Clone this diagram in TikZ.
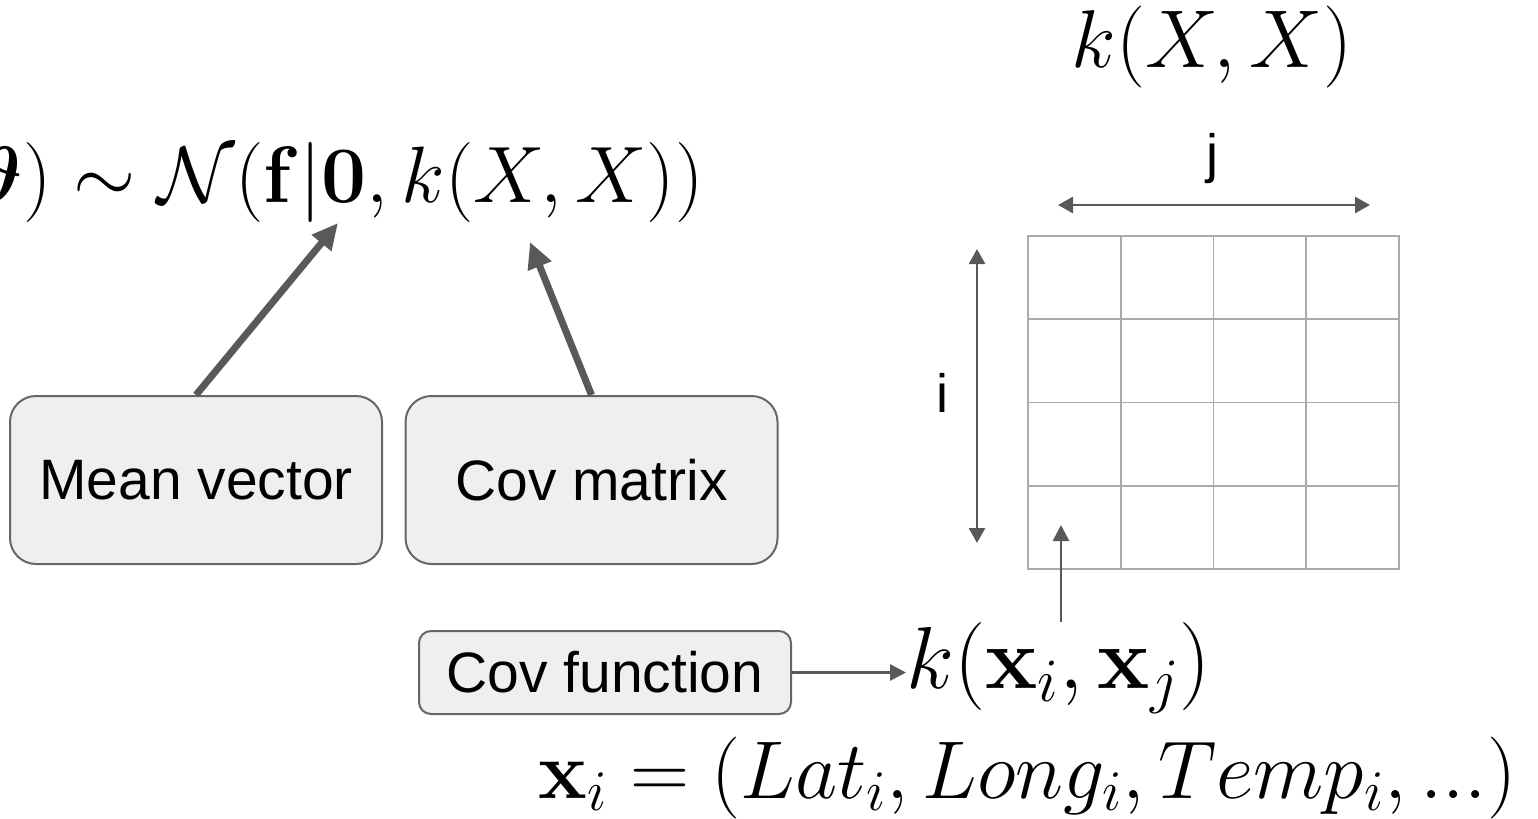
\RequirePackage{fix-cm}
\documentclass[tikz,border=0pt]{standalone}
\usepackage{amsmath, amssymb}
\usepackage[no-math]{fontspec}
\newfontfamily\arialfont{Liberation Sans}
\usepackage{tikz}
\usetikzlibrary{arrows.meta, positioning}
\definecolor{arrowgray}{RGB}{89, 89, 89}
\definecolor{boxfill}{RGB}{239, 239, 239}
\definecolor{boxline}{RGB}{102, 102, 102}
\definecolor{gridgray}{RGB}{170, 170, 170}

\begin{document}
\begin{tikzpicture}[
    x=0.5pt, y=-0.5pt,
    mathbig/.style={inner sep=0pt, font=\fontsize{41}{49}\selectfont},
    mathhuge/.style={inner sep=0pt, font=\fontsize{44}{53}\selectfont},
    labelbox/.style={draw=boxline, line width=1pt, fill=boxfill, rounded corners=13pt, minimum width=186pt, minimum height=84pt, font=\arialfont\fontsize{28.5}{34}\selectfont},
    funcbox/.style={labelbox, rounded corners=6pt, minimum height=41.5pt},
    cell/.style={draw=gridgray, line width=0.8pt, minimum width=46.4pt, minimum height=41.6pt, inner sep=0pt},
    bigarrow/.style={draw=arrowgray, line width=3.5pt, -{Triangle[length=13pt, width=12pt]}},
    thinarrow/.style={draw=arrowgray, line width=1.4pt, -{Triangle[length=8pt, width=8pt]}},
    dblarrow/.style={draw=arrowgray, line width=1.4pt, {Triangle[length=7.5pt, width=8pt]}-{Triangle[length=7.5pt, width=8pt]}},
    axislabel/.style={font=\arialfont\fontsize{27}{32}\selectfont, inner sep=0pt, anchor=base}
]
    \useasboundingbox (0, 0) rectangle (1538, 819);
    \clip (0, 0) rectangle (1538, 819);

    % formulas
    \node[mathbig, font=\fontsize{40}{48}\selectfont, anchor=base east] (prior) at (704, 202) {$\boldsymbol{\vartheta}) \sim \mathcal{N}(\mathbf{f}|\mathbf{0}, k(X, X))$};
    \node[mathbig, anchor=base] (topk) at (1212, 68) {$k(X, X)$};
    \node[mathhuge, anchor=base west] (kij) at (906, 688) {$k(\mathbf{x}_i, \mathbf{x}_j)$};
    \node[mathbig, anchor=base west] (xrow) at (538, 798) {$\mathbf{x}_i = (Lat_i, Long_i, Temp_i, ...)$};

    % boxes
    \node[labelbox] (mean) at (196, 480) {Mean vector};
    \node[labelbox] (cov) at (591.5, 480) {Cov matrix};
    \node[funcbox] (covfun) at (605, 672.5) {Cov function};

    \coordinate (meantip) at (338, 223);
    \coordinate (covtip) at (530, 242);
    \draw[bigarrow] (mean.north) -- (meantip);
    \draw[bigarrow] (cov.north) -- (covtip);
    \draw[thinarrow] (covfun.east) -- (covfun.east -| kij.west);

    % kernel matrix
    \foreach \r in {1,...,4} {
        \foreach \c in {1,...,4} {
            \node[cell] (c-\r-\c) at ({1028+92.75*(\c-0.5)}, {236+83.25*(\r-0.5)}) {};
        }
    }
    \coordinate (jleft) at (1058, 205);
    \coordinate (jright) at (1370, 205);
    \coordinate (itop) at (977, 249);
    \coordinate (ibot) at (977, 543);
    \draw[dblarrow] (jleft) -- (jright);
    \draw[dblarrow] (itop) -- (ibot);
    \node[axislabel] (jlab) at (1212, 172) {j};
    \node[axislabel] (ilab) at (942, 412) {i};

    \coordinate (celltip) at (1061, 525);
    \draw[thinarrow] (celltip |- kij.north) -- (celltip);
\end{tikzpicture}
\end{document}
